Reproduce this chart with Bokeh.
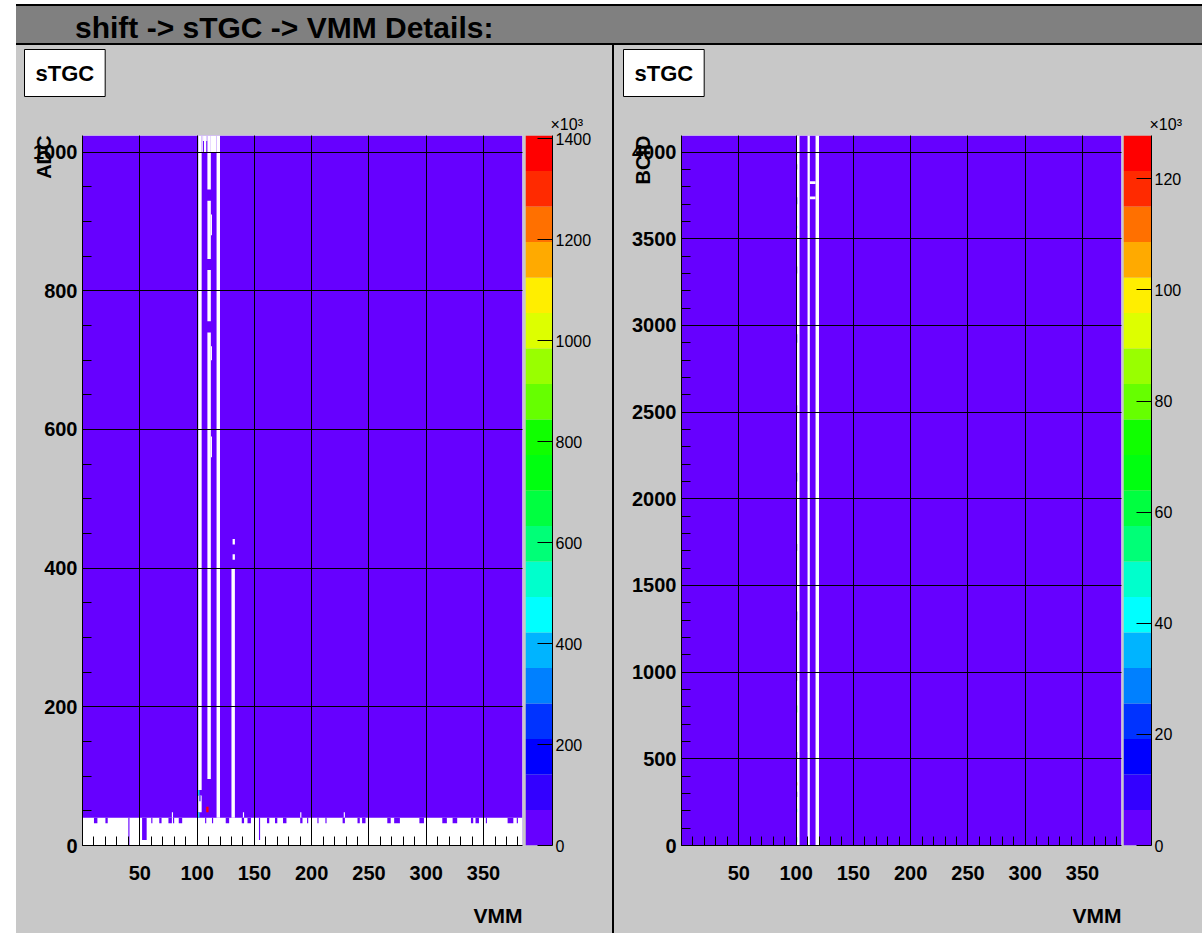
import math
from bokeh.plotting import figure
from bokeh.models import Range1d, FixedTicker, Label, LinearColorMapper, ColumnDataSource, Spacer, Div
from bokeh.layouts import row, column
from bokeh.transform import transform
from bokeh.embed import file_html
from bokeh.resources import INLINE

# ---------------- data ----------------
PAGE_TITLE = "shift -> sTGC -> VMM Details:"
PAD_TITLE = "sTGC"
X_TITLE = "VMM"

# ROOT-like 20-level palette (low -> high)
PALETTE = ["#6600ff", "#3300ff", "#0000ff", "#0033ff", "#0080ff",
           "#00b4ff", "#00ffff", "#00ffcc", "#00ff77", "#00ff40",
           "#00ff10", "#10ff00", "#66ff00", "#99ff00", "#ddff00",
           "#ffee00", "#ffaa00", "#ff7000", "#ff2a00", "#ff0000"]

VMM_RANGE = [0, 384]
VMM_TICKS = [50, 100, 150, 200, 250, 300, 350]
VMM_MINOR = list(range(0, 385, 10))

# ---- left: ADC vs VMM (counts in units of 10^3) ----
ADC_TITLE = "ADC"
ADC_MAX = 1024
ADC_TICKS = [0, 200, 400, 600, 800, 1000]
ADC_MINOR = list(range(0, 1025, 50))
ADC_ZMAX = 1406
ADC_ZTICKS = [0, 200, 400, 600, 800, 1000, 1200, 1400]
ADC_BASE = 30
# empty bins: (vmm_lo, vmm_hi, adc_lo, adc_hi)
ADC_EMPTY = [
    (0, 384, 0, 40),
    (101, 104, 80, 1024), (101, 104, 48, 72),
    (109, 112, 96, 740), (109, 112, 756, 830), (109, 112, 846, 930), (109, 112, 946, 1024),
    (112, 113, 560, 590), (112, 113, 700, 720), (112, 113, 880, 910),
    (117, 120, 40, 1024),
    (104, 105, 1000, 1024), (106, 108, 1000, 1024), (105, 106, 1016, 1024),
    (108, 109, 1016, 1024), (112, 117, 1000, 1024),
    (130, 133, 40, 400), (131, 133, 412, 420), (131, 133, 434, 442),
    (78, 79, 40, 48), (140, 141, 40, 48), (190, 191, 40, 48), (228, 229, 40, 48),
]
# filled low-ADC bins below the threshold band: (vmm_lo, vmm_hi, adc_lo, adc_hi)
ADC_LOWFILL = [
    (10, 13, 32, 40), (20, 22, 32, 40), (40, 41, 0, 40), (52, 56, 8, 40), (60, 61, 32, 40),
    (67, 69, 32, 40), (75, 78, 32, 40), (79, 80, 32, 40), (84, 87, 32, 40), (107, 108, 32, 40),
    (113, 114, 32, 40), (125, 128, 32, 40), (139, 141, 32, 40), (144, 147, 32, 40), (154, 155, 8, 40),
    (161, 163, 32, 40), (168, 170, 32, 40), (175, 178, 32, 40), (190, 192, 32, 40), (196, 197, 32, 40),
    (205, 206, 32, 40), (212, 213, 32, 40), (227, 229, 32, 40), (240, 242, 32, 40), (244, 247, 32, 40),
    (266, 269, 32, 40), (272, 277, 32, 40), (294, 298, 32, 40), (314, 318, 32, 40), (323, 327, 32, 40),
    (339, 341, 32, 40), (343, 346, 32, 40), (352, 353, 32, 40), (371, 376, 32, 40), (379, 380, 32, 40),
]
# hot bins: (vmm_lo, vmm_hi, adc_lo, adc_hi, count)
ADC_HOT = [(108, 110, 48, 56, 1400), (101, 102, 72, 80, 470), (101, 102, 40, 48, 470),
           (102, 103, 64, 72, 120)]

# ---- right: BCID vs VMM ----
BCID_TITLE = "BCID"
BCID_MAX = 4096
BCID_TICKS = [0, 500, 1000, 1500, 2000, 2500, 3000, 3500, 4000]
BCID_MINOR = list(range(0, 4097, 100))
BCID_ZMAX = 127.8
BCID_ZTICKS = [0, 20, 40, 60, 80, 100, 120]
BCID_BASE = 3
BCID_EMPTY = [(100, 103, 0, 4096), (110, 112, 0, 4096), (117, 120, 0, 4096),
              (112, 117, 3816, 3832), (112, 117, 3728, 3744)]
BCID_LOWFILL = []
BCID_HOT = [(100, 101, 3980, 4000, 42), (100, 101, 3560, 3575, 42), (100, 101, 767, 808, 70),
            (100, 101, 346, 365, 110), (100, 101, 192, 212, 42), (100, 101, 19, 48, 55),
            (100, 101, 3900, 3930, 3), (100, 101, 3700, 3740, 15), (100, 101, 3300, 3340, 3),
            (100, 101, 2900, 2950, 15), (100, 101, 2500, 2540, 3), (100, 101, 2100, 2150, 15),
            (100, 101, 1700, 1740, 3), (100, 101, 1300, 1350, 15), (100, 101, 950, 990, 3),
            (100, 101, 500, 540, 15), (100, 101, 280, 310, 3)]

# ---------------- style ----------------
FONT = "Liberation Sans"
PANEL_GRAY = "#c8c8c8"
HEADER_GRAY = "#808080"
FRAME_W, FRAME_H = 440, 710
BORDER_TOP, BORDER_BOTTOM = 90, 88


def style_axis(ax, size, bold=True):
    ax.major_label_text_font = FONT
    ax.major_label_text_font_style = "bold" if bold else "normal"
    ax.major_label_text_font_size = size
    ax.major_label_text_color = "black"
    ax.axis_line_color = "black"
    ax.major_tick_line_color = "black"
    ax.minor_tick_line_color = "black"


def rect_source(rects, value=None):
    d = dict(l=[r[0] for r in rects], r=[r[1] for r in rects],
             b=[r[2] for r in rects], t=[r[3] for r in rects])
    d["z"] = [r[4] for r in rects] if value is None else [value] * len(rects)
    return ColumnDataSource(d)


def heat_panel(ymax, yticks, yminor, ytitle, zmax, base, empty, lowfill, hot, border_left, border_right):
    mapper = LinearColorMapper(palette=PALETTE, low=0, high=zmax)
    p = figure(frame_width=FRAME_W, frame_height=FRAME_H,
               x_range=Range1d(VMM_RANGE[0], VMM_RANGE[1]), y_range=Range1d(0, ymax),
               min_border_left=border_left, min_border_right=border_right,
               min_border_top=BORDER_TOP, min_border_bottom=BORDER_BOTTOM,
               output_backend="svg", toolbar_location=None,
               border_fill_color=PANEL_GRAY, background_fill_color="white",
               outline_line_color=None)
    full = rect_source([(VMM_RANGE[0], VMM_RANGE[1], 0, ymax)], base)
    p.quad(left="l", right="r", bottom="b", top="t", source=full,
           fill_color=transform("z", mapper), line_color=None)
    p.quad(left="l", right="r", bottom="b", top="t", source=rect_source(empty, 0),
           fill_color="white", line_color=None)
    if lowfill:
        p.quad(left="l", right="r", bottom="b", top="t", source=rect_source(lowfill, base),
               fill_color=transform("z", mapper), line_color=None)
    p.quad(left="l", right="r", bottom="b", top="t", source=rect_source(hot),
           fill_color=transform("z", mapper), line_color=None)

    xt = FixedTicker(ticks=VMM_TICKS, minor_ticks=VMM_MINOR)
    yt = FixedTicker(ticks=yticks, minor_ticks=yminor)
    p.xaxis.ticker = xt
    p.yaxis.ticker = yt
    p.xgrid.ticker = xt
    p.ygrid.ticker = yt
    for ax in (p.xaxis[0], p.yaxis[0]):
        style_axis(ax, "20px")
        ax.major_tick_in = 0
        ax.major_tick_out = 0
        ax.minor_tick_in = 9
        ax.minor_tick_out = 0
    p.xaxis.major_label_standoff = 20
    p.yaxis.major_label_standoff = 5
    p.grid.grid_line_color = "black"
    p.grid.grid_line_alpha = 1.0
    p.grid.grid_line_width = 1
    p.grid.level = "overlay"

    # pad title box (top-left of the pad)
    p.add_layout(Label(x=0, y=0, x_offset=-58, y_offset=(FRAME_H + 86), text=PAD_TITLE,
                       text_align="left", text_baseline="top", text_font=FONT,
                       text_font_style="bold", text_font_size="22px", text_color="black",
                       padding=11, background_fill_color="white",
                       border_line_color="black", border_line_width=1), "above")
    # x title (bottom right)
    p.add_layout(Label(x=VMM_RANGE[1], y=0, y_offset=-70, text=X_TITLE,
                       text_align="right", text_baseline="alphabetic", text_font=FONT,
                       text_font_style="bold", text_font_size="21px", text_color="black"), "above")
    # y title (top left, rotated)
    p.add_layout(Label(x=0, y=ymax, x_offset=-39, angle=math.pi / 2, text=ytitle,
                       text_align="right", text_baseline="alphabetic", text_font=FONT,
                       text_font_style="bold", text_font_size="20px", text_color="black"), "below")
    return p


def cb_panel(zmax, zticks, bar_w, border_right):
    mapper = LinearColorMapper(palette=PALETTE, low=0, high=zmax)
    n = len(PALETTE)
    src = ColumnDataSource(dict(b=[zmax * i / n for i in range(n)],
                                t=[zmax * (i + 1) / n for i in range(n)],
                                z=[zmax * (i + 0.5) / n for i in range(n)]))
    p = figure(frame_width=bar_w, frame_height=FRAME_H,
               x_range=Range1d(0, 1), y_range=Range1d(0, zmax),
               min_border_left=0, min_border_right=border_right,
               min_border_top=BORDER_TOP, min_border_bottom=BORDER_BOTTOM,
               x_axis_location=None, y_axis_location="right",
               output_backend="svg", toolbar_location=None,
               border_fill_color=PANEL_GRAY, background_fill_color=PANEL_GRAY,
               outline_line_color=None)
    p.quad(left=0, right=1, bottom="b", top="t", source=src,
           fill_color=transform("z", mapper), line_color=None)
    p.grid.visible = False
    ax = p.yaxis[0]
    ax.ticker = FixedTicker(ticks=zticks)
    style_axis(ax, "16px", bold=False)
    ax.major_tick_in = 15
    ax.major_tick_out = 0
    ax.minor_tick_in = 0
    ax.minor_tick_out = 0
    ax.major_label_standoff = 3
    p.add_layout(Label(x=1, y=zmax, x_offset=-2, y_offset=3, text="×10³",
                       text_align="left", text_baseline="bottom", text_font=FONT,
                       text_font_size="16px", text_color="black"), "above")
    return p


left_main = heat_panel(ADC_MAX, ADC_TICKS, ADC_MINOR, ADC_TITLE, ADC_ZMAX, ADC_BASE,
                       ADC_EMPTY, ADC_LOWFILL, ADC_HOT, 66, 3)
left_cb = cb_panel(ADC_ZMAX, ADC_ZTICKS, 27, 60)
right_main = heat_panel(BCID_MAX, BCID_TICKS, BCID_MINOR, BCID_TITLE, BCID_ZMAX, BCID_BASE,
                        BCID_EMPTY, BCID_LOWFILL, BCID_HOT, 67, 2)
right_cb = cb_panel(BCID_ZMAX, BCID_ZTICKS, 28, 51)

divider = Spacer(width=2, height=FRAME_H + BORDER_TOP + BORDER_BOTTOM,
                 styles={"background-color": "black"})

header_html = (
    '<div style="box-sizing:border-box;width:1186px;height:41px;background:%s;'
    'border-top:2px solid #000;border-bottom:2px solid #000;padding:6px 0 0 59px;'
    "font-family:'Liberation Sans';font-weight:bold;font-size:30px;line-height:31px;"
    'color:#000;white-space:nowrap;overflow:hidden;">%s</div>'
) % (HEADER_GRAY, PAGE_TITLE.replace(">", "&gt;"))
header = Div(text=header_html, width=1186, height=41, margin=0)

panels = row(left_main, left_cb, divider, right_main, right_cb,
             styles={"background-color": PANEL_GRAY})
page = row(Spacer(width=16, height=933),
           column(Spacer(width=1186, height=4), header, panels))

open("out.html", "w").write(file_html(page, INLINE))
